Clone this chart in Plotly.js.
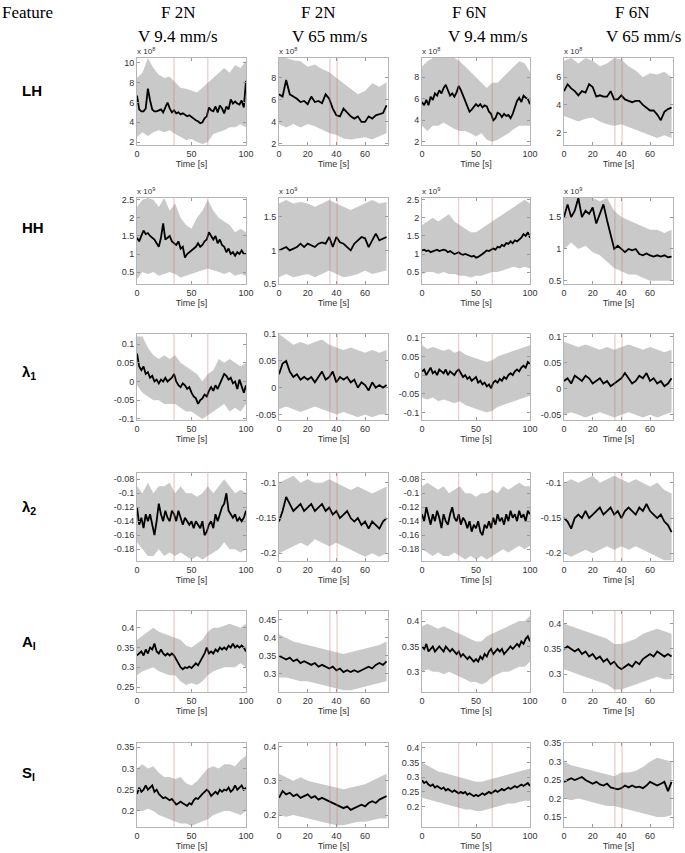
<!DOCTYPE html>
<html><head><meta charset="utf-8">
<script src="https://cdn.plot.ly/plotly-3.0.1.min.js"></script>
<style>html,body{margin:0;padding:0;background:#fff}#chart{width:685px;height:853px}</style>
</head><body><div id="chart"></div>
<script>
// ---------- time grids (s) ----------
const T100_MEAN = [0,2,4,6,8,10,12,14,16,18,20,22,24,26,28,30,32,34,36,38,40,42,44,46,48,50,52,54,56,58,60,62,64,66,68,70,72,74,76,78,80,82,84,86,88,90,92,94,96,98,100];
const T100_BAND = [0,5,10,15,20,25,30,35,40,45,50,55,60,65,70,75,80,85,90,95,100];
const T75_MEAN = [0,2.5,5,7.5,10,12.5,15,17.5,20,22.5,25,27.5,30,32.5,35,37.5,40,42.5,45,47.5,50,52.5,55,57.5,60,62.5,65,67.5,70,72.5,75];
const T75_BAND = [0,5,10,15,20,25,30,35,40,45,50,55,60,65,70,75];
const EVENTS_SLOW = [34, 65];
const EVENTS_FAST = [35.5, 40.5];

// ---------- headers ----------
const FEATURES = ['<b>LH</b>','<b>HH</b>','<b>λ<sub>1</sub></b>','<b>λ<sub>2</sub></b>','<b>A<sub>I</sub></b>','<b>S<sub>I</sub></b>'];
const FORCES = ['F 2N','F 2N','F 6N','F 6N'];
const SPEEDS = ['V 9.4 mm/s','V 65 mm/s','V 9.4 mm/s','V 65 mm/s'];
const EXPONENTS = ['8','9','','','',''];

// ---------- row 1: LH (x 10^8) ----------
const LH_C1_MEAN = [6.7,5.3,5.1,5.1,5.4,7.4,6.2,5.3,5.1,5.1,5.2,5.3,5.0,5.5,6.0,5.4,5.0,5.2,4.9,5.0,4.8,4.9,4.7,4.6,4.7,4.5,4.4,4.2,4.1,3.9,4.0,4.4,4.6,5.5,5.2,5.1,5.6,5.0,5.7,5.4,4.9,5.6,5.3,6.3,5.9,6.1,5.9,5.8,6.2,5.5,8.2];
const LH_C1_UP = [8.5,9.0,10.5,9.5,8.8,8.5,8.6,8.0,7.5,7.4,7.2,7.0,7.5,8.0,8.5,9.0,9.5,9.0,9.8,9.5,10.2];
const LH_C1_LO = [2.5,3.0,2.6,3.0,3.2,3.0,3.2,2.8,2.5,2.2,2.3,2.0,1.8,2.0,2.8,3.0,3.2,3.5,3.5,3.8,3.5];
const LH_C2_MEAN = [6.5,6.3,7.8,6.5,6.3,6.1,5.8,5.9,5.6,6.3,5.8,5.9,5.7,6.5,6.1,5.2,4.6,4.5,5.2,4.8,4.5,4.3,4.5,4.0,4.0,4.5,4.3,4.6,4.7,4.8,5.5];
const LH_C2_UP = [9.8,9.8,9.6,9.5,9.0,9.2,8.8,8.5,8.0,7.5,7.0,6.5,6.8,7.5,7.2,7.6];
const LH_C2_LO = [3.8,3.5,3.8,3.5,3.8,3.6,3.3,3.0,2.8,2.5,2.4,2.5,2.6,2.4,2.7,3.0];
const LH_C3_MEAN = [5.7,5.4,5.9,5.4,6.2,5.9,6.5,6.3,6.8,6.5,7.0,7.3,6.8,6.3,6.5,6.2,6.6,7.2,6.8,6.2,5.8,5.3,4.8,5.0,5.3,5.5,5.3,5.5,5.2,5.4,5.3,4.8,4.6,4.0,4.2,4.7,4.6,4.3,4.6,4.4,4.5,4.2,4.6,5.3,5.8,6.1,5.7,6.3,6.1,6.0,5.5];
const LH_C3_UP = [9.0,9.5,9.8,9.8,9.8,9.8,9.8,9.5,9.0,8.5,8.0,7.5,7.0,7.5,7.5,8.0,8.5,9.0,9.5,9.3,8.5];
const LH_C3_LO = [3.5,3.0,3.5,3.5,3.8,3.5,3.2,3.0,3.0,2.8,2.5,2.8,2.2,2.0,2.2,2.5,2.8,3.2,3.5,3.5,3.5];
const LH_C4_MEAN = [5.0,5.5,5.2,5.0,4.7,5.0,4.9,5.5,5.3,4.6,4.7,4.6,4.6,5.0,4.4,4.4,4.7,4.4,4.3,4.2,4.3,4.3,4.0,3.8,3.6,3.6,3.3,2.9,3.5,3.7,3.8];
const LH_C4_UP = [7.2,7.4,7.0,7.4,7.2,6.8,7.0,7.4,7.3,6.8,6.5,6.0,6.3,6.2,6.4,6.0];
const LH_C4_LO = [3.2,3.0,2.8,3.0,3.1,2.8,2.6,2.5,2.6,2.4,2.2,2.0,1.8,1.6,1.8,1.6];

// ---------- row 2: HH (x 10^9) ----------
const HH_C1_MEAN = [1.45,1.35,1.5,1.65,1.55,1.58,1.5,1.45,1.4,1.3,1.2,1.45,1.85,1.4,1.45,1.5,1.35,1.3,1.25,1.35,1.15,1.2,0.9,1.0,1.05,1.1,1.15,1.2,1.3,1.2,1.25,1.35,1.4,1.6,1.5,1.4,1.5,1.3,1.4,1.25,1.2,1.05,1.15,1.0,1.05,0.95,1.05,1.0,1.1,1.0,1.0];
const HH_C1_UP = [2.3,2.5,2.55,2.5,2.3,2.55,2.2,2.4,2.0,1.8,1.7,2.0,2.2,2.5,2.2,2.0,1.9,1.8,1.6,1.7,1.6];
const HH_C1_LO = [0.3,0.5,0.45,0.5,0.4,0.45,0.5,0.45,0.35,0.4,0.45,0.5,0.55,0.6,0.55,0.5,0.45,0.5,0.4,0.45,0.4];
const HH_C2_MEAN = [1.0,1.02,1.05,1.0,1.03,1.05,1.1,1.05,1.1,1.08,1.05,1.1,1.12,1.1,1.2,1.05,1.2,1.12,1.1,1.05,1.0,1.1,1.15,1.2,1.18,1.05,1.15,1.25,1.15,1.18,1.2];
const HH_C2_UP = [1.7,1.75,1.7,1.72,1.7,1.65,1.7,1.75,1.7,1.65,1.6,1.65,1.7,1.75,1.7,1.72];
const HH_C2_LO = [0.6,0.65,0.6,0.62,0.65,0.6,0.65,0.7,0.65,0.6,0.62,0.65,0.7,0.65,0.68,0.7];
const HH_C3_MEAN = [1.1,1.12,1.08,1.1,1.05,1.08,1.1,1.12,1.08,1.1,1.12,1.1,1.05,1.08,1.05,1.0,1.02,1.05,1.0,0.98,1.0,0.97,0.95,0.93,0.95,0.9,0.92,0.95,1.0,1.05,1.1,1.08,1.12,1.15,1.12,1.2,1.18,1.25,1.22,1.3,1.28,1.35,1.3,1.38,1.35,1.4,1.45,1.55,1.5,1.6,1.45];
const HH_C3_UP = [1.8,1.9,2.0,1.9,2.0,2.1,1.9,1.8,1.7,1.6,1.6,1.7,1.8,1.9,2.0,2.1,2.2,2.3,2.4,2.5,2.4];
const HH_C3_LO = [0.45,0.5,0.5,0.45,0.5,0.45,0.45,0.4,0.4,0.35,0.4,0.4,0.45,0.5,0.5,0.55,0.6,0.65,0.6,0.65,0.6];
const HH_C4_MEAN = [1.5,1.7,1.5,1.6,1.8,1.5,1.6,1.55,1.65,1.4,1.55,1.7,1.45,1.2,1.0,1.05,1.0,0.95,1.0,0.98,1.0,0.92,0.9,0.93,0.9,0.88,0.9,0.88,0.9,0.87,0.88];
const HH_C4_UP = [1.8,1.8,1.8,1.8,1.8,1.75,1.8,1.6,1.5,1.45,1.4,1.35,1.3,1.3,1.25,1.3];
const HH_C4_LO = [1.0,1.1,1.0,1.05,0.95,0.9,0.8,0.7,0.65,0.6,0.6,0.55,0.5,0.5,0.5,0.5];

// ---------- row 3: lambda 1 ----------
const L1_C1_MEAN = [0.075,0.04,0.03,0.04,0.02,0.025,0.01,0.015,0.0,0.005,-0.005,0.005,0.0,0.01,0.0,0.005,0.01,0.02,0.0,-0.01,-0.015,-0.005,-0.01,-0.02,-0.015,-0.03,-0.04,-0.045,-0.06,-0.05,-0.045,-0.035,-0.04,-0.025,-0.015,-0.025,-0.01,-0.02,-0.005,0.005,0.02,0.015,0.005,0.01,-0.005,0.0,-0.02,0.005,-0.01,-0.03,-0.01];
const L1_C1_UP = [0.12,0.12,0.09,0.07,0.06,0.07,0.06,0.07,0.05,0.04,0.03,0.02,0.0,0.02,0.03,0.06,0.05,0.06,0.05,0.04,0.05];
const L1_C1_LO = [-0.01,-0.03,-0.04,-0.05,-0.05,-0.06,-0.06,-0.06,-0.07,-0.08,-0.08,-0.09,-0.1,-0.09,-0.08,-0.07,-0.06,-0.08,-0.07,-0.08,-0.06];
const L1_C2_MEAN = [0.025,0.045,0.05,0.03,0.02,0.025,0.015,0.02,0.015,0.02,0.01,0.02,0.03,0.015,0.02,0.03,0.01,0.02,0.015,0.02,0.01,0.015,0.0,0.01,0.005,-0.005,0.01,0.0,0.005,0.0,0.005];
const L1_C2_UP = [0.1,0.09,0.08,0.085,0.08,0.085,0.09,0.08,0.075,0.07,0.075,0.07,0.065,0.07,0.065,0.07];
const L1_C2_LO = [-0.04,-0.035,-0.04,-0.045,-0.04,-0.035,-0.04,-0.045,-0.05,-0.045,-0.05,-0.055,-0.05,-0.055,-0.05,-0.05];
const L1_C3_MEAN = [0.01,0.015,0.0,0.01,0.02,0.005,0.01,0.0,0.015,0.01,0.005,0.015,0.0,0.01,0.005,0.0,0.01,0.015,0.005,-0.005,0.0,-0.01,-0.005,-0.015,-0.01,-0.005,-0.02,-0.015,-0.025,-0.02,-0.03,-0.025,-0.035,-0.02,-0.015,-0.02,-0.01,-0.015,-0.005,-0.01,0.0,0.005,0.0,0.01,0.015,0.01,0.02,0.025,0.02,0.035,0.03];
const L1_C3_UP = [0.08,0.07,0.075,0.07,0.065,0.07,0.06,0.065,0.055,0.05,0.045,0.04,0.035,0.04,0.05,0.055,0.06,0.065,0.07,0.075,0.08];
const L1_C3_LO = [-0.06,-0.065,-0.06,-0.07,-0.065,-0.07,-0.075,-0.07,-0.08,-0.085,-0.09,-0.095,-0.1,-0.095,-0.085,-0.08,-0.075,-0.07,-0.065,-0.06,-0.055];
const L1_C4_MEAN = [0.015,0.02,0.01,0.025,0.02,0.015,0.025,0.02,0.01,0.015,0.02,0.01,0.015,0.005,0.01,0.015,0.02,0.03,0.02,0.01,0.015,0.025,0.02,0.03,0.015,0.02,0.01,0.015,0.005,0.01,0.02];
const L1_C4_UP = [0.09,0.085,0.08,0.085,0.08,0.075,0.08,0.075,0.08,0.085,0.08,0.075,0.08,0.075,0.07,0.075];
const L1_C4_LO = [-0.05,-0.045,-0.05,-0.055,-0.05,-0.045,-0.05,-0.055,-0.05,-0.045,-0.05,-0.055,-0.05,-0.055,-0.05,-0.045];

// ---------- row 4: lambda 2 ----------
const L2_C1_MEAN = [-0.12,-0.145,-0.135,-0.15,-0.13,-0.14,-0.13,-0.145,-0.16,-0.14,-0.115,-0.13,-0.14,-0.125,-0.135,-0.14,-0.125,-0.13,-0.14,-0.125,-0.135,-0.145,-0.135,-0.14,-0.145,-0.14,-0.15,-0.14,-0.145,-0.15,-0.14,-0.16,-0.155,-0.145,-0.14,-0.15,-0.13,-0.14,-0.13,-0.12,-0.115,-0.1,-0.125,-0.13,-0.135,-0.13,-0.14,-0.135,-0.14,-0.135,-0.125];
const L2_C1_UP = [-0.09,-0.1,-0.085,-0.1,-0.09,-0.09,-0.085,-0.1,-0.09,-0.1,-0.1,-0.105,-0.1,-0.09,-0.1,-0.09,-0.08,-0.09,-0.1,-0.095,-0.1];
const L2_C1_LO = [-0.17,-0.18,-0.19,-0.19,-0.18,-0.19,-0.185,-0.19,-0.185,-0.19,-0.195,-0.19,-0.195,-0.19,-0.185,-0.18,-0.17,-0.18,-0.18,-0.185,-0.18];
const L2_C2_MEAN = [-0.155,-0.14,-0.12,-0.13,-0.14,-0.135,-0.13,-0.14,-0.135,-0.13,-0.14,-0.135,-0.13,-0.14,-0.135,-0.145,-0.14,-0.15,-0.145,-0.14,-0.15,-0.155,-0.15,-0.16,-0.155,-0.165,-0.155,-0.16,-0.165,-0.155,-0.15];
const L2_C2_UP = [-0.1,-0.095,-0.09,-0.1,-0.095,-0.1,-0.1,-0.095,-0.1,-0.105,-0.11,-0.105,-0.11,-0.115,-0.11,-0.105];
const L2_C2_LO = [-0.2,-0.195,-0.19,-0.185,-0.19,-0.18,-0.185,-0.19,-0.185,-0.19,-0.195,-0.2,-0.205,-0.2,-0.205,-0.2];
const L2_C3_MEAN = [-0.13,-0.14,-0.12,-0.135,-0.145,-0.13,-0.14,-0.125,-0.135,-0.15,-0.13,-0.14,-0.145,-0.13,-0.12,-0.135,-0.14,-0.13,-0.145,-0.135,-0.14,-0.15,-0.14,-0.155,-0.145,-0.15,-0.14,-0.155,-0.16,-0.145,-0.15,-0.14,-0.15,-0.135,-0.145,-0.13,-0.14,-0.135,-0.145,-0.13,-0.14,-0.125,-0.135,-0.13,-0.14,-0.125,-0.135,-0.13,-0.14,-0.125,-0.13];
const L2_C3_UP = [-0.09,-0.085,-0.09,-0.095,-0.09,-0.1,-0.095,-0.09,-0.1,-0.1,-0.105,-0.1,-0.1,-0.095,-0.1,-0.09,-0.095,-0.09,-0.085,-0.09,-0.09];
const L2_C3_LO = [-0.18,-0.185,-0.19,-0.185,-0.19,-0.19,-0.185,-0.19,-0.195,-0.19,-0.195,-0.19,-0.195,-0.19,-0.185,-0.18,-0.185,-0.18,-0.175,-0.18,-0.175];
const L2_C4_MEAN = [-0.15,-0.155,-0.165,-0.15,-0.145,-0.15,-0.14,-0.15,-0.145,-0.14,-0.135,-0.145,-0.14,-0.135,-0.145,-0.14,-0.15,-0.14,-0.135,-0.14,-0.145,-0.135,-0.14,-0.13,-0.14,-0.145,-0.15,-0.145,-0.155,-0.16,-0.17];
const L2_C4_UP = [-0.1,-0.095,-0.1,-0.095,-0.09,-0.1,-0.095,-0.09,-0.095,-0.1,-0.095,-0.1,-0.105,-0.1,-0.11,-0.115];
const L2_C4_LO = [-0.2,-0.205,-0.2,-0.195,-0.2,-0.195,-0.19,-0.195,-0.19,-0.195,-0.19,-0.195,-0.2,-0.205,-0.21,-0.21];

// ---------- row 5: A_I ----------
const AI_C1_MEAN = [0.33,0.335,0.34,0.33,0.345,0.335,0.35,0.345,0.36,0.34,0.335,0.345,0.335,0.33,0.335,0.33,0.335,0.33,0.32,0.31,0.3,0.295,0.3,0.298,0.302,0.298,0.305,0.31,0.305,0.315,0.325,0.335,0.35,0.335,0.34,0.335,0.345,0.34,0.35,0.345,0.35,0.345,0.355,0.35,0.36,0.35,0.355,0.35,0.355,0.35,0.34];
const AI_C1_UP = [0.37,0.38,0.39,0.4,0.39,0.385,0.38,0.375,0.37,0.355,0.35,0.36,0.37,0.39,0.4,0.4,0.405,0.41,0.405,0.4,0.41];
const AI_C1_LO = [0.28,0.29,0.295,0.3,0.29,0.285,0.28,0.28,0.265,0.255,0.26,0.255,0.265,0.28,0.29,0.295,0.3,0.3,0.3,0.31,0.3];
const AI_C2_MEAN = [0.35,0.345,0.34,0.345,0.335,0.34,0.33,0.335,0.33,0.325,0.33,0.32,0.325,0.32,0.315,0.32,0.31,0.315,0.305,0.31,0.305,0.31,0.305,0.31,0.315,0.32,0.315,0.325,0.33,0.325,0.335];
const AI_C2_UP = [0.41,0.4,0.39,0.385,0.38,0.375,0.37,0.365,0.36,0.355,0.36,0.365,0.37,0.375,0.38,0.39];
const AI_C2_LO = [0.29,0.29,0.285,0.28,0.28,0.275,0.27,0.265,0.26,0.255,0.255,0.26,0.265,0.27,0.275,0.28];
const AI_C3_MEAN = [0.35,0.345,0.355,0.34,0.345,0.35,0.34,0.345,0.35,0.345,0.34,0.35,0.345,0.34,0.345,0.34,0.335,0.34,0.33,0.335,0.33,0.325,0.33,0.325,0.32,0.325,0.32,0.33,0.325,0.335,0.33,0.34,0.345,0.335,0.34,0.345,0.34,0.345,0.335,0.34,0.345,0.35,0.345,0.35,0.355,0.35,0.36,0.355,0.365,0.37,0.36];
const AI_C3_UP = [0.39,0.395,0.39,0.385,0.39,0.385,0.38,0.375,0.37,0.365,0.36,0.36,0.37,0.375,0.38,0.385,0.39,0.395,0.4,0.4,0.41];
const AI_C3_LO = [0.3,0.305,0.3,0.3,0.295,0.3,0.295,0.29,0.285,0.28,0.28,0.275,0.28,0.29,0.295,0.3,0.3,0.305,0.31,0.31,0.32];
const AI_C4_MEAN = [0.35,0.355,0.35,0.345,0.35,0.34,0.345,0.335,0.34,0.33,0.335,0.325,0.33,0.32,0.325,0.315,0.31,0.315,0.32,0.315,0.325,0.32,0.33,0.335,0.34,0.335,0.345,0.34,0.335,0.34,0.335];
const AI_C4_UP = [0.4,0.395,0.39,0.385,0.38,0.375,0.37,0.36,0.36,0.365,0.37,0.38,0.385,0.39,0.385,0.38];
const AI_C4_LO = [0.31,0.305,0.3,0.295,0.29,0.285,0.28,0.27,0.27,0.275,0.28,0.285,0.29,0.295,0.29,0.29];

// ---------- row 6: S_I ----------
const SI_C1_MEAN = [0.24,0.255,0.245,0.25,0.26,0.25,0.255,0.26,0.245,0.25,0.24,0.235,0.23,0.232,0.228,0.225,0.228,0.22,0.215,0.218,0.222,0.218,0.214,0.212,0.218,0.215,0.225,0.23,0.228,0.235,0.24,0.245,0.25,0.245,0.235,0.24,0.245,0.24,0.25,0.245,0.25,0.248,0.255,0.245,0.25,0.26,0.25,0.255,0.26,0.25,0.255];
const SI_C1_UP = [0.3,0.31,0.3,0.305,0.29,0.28,0.28,0.275,0.28,0.265,0.26,0.27,0.285,0.3,0.305,0.3,0.31,0.31,0.305,0.32,0.33];
const SI_C1_LO = [0.2,0.2,0.205,0.2,0.19,0.185,0.18,0.175,0.17,0.17,0.165,0.17,0.175,0.18,0.19,0.195,0.2,0.2,0.195,0.19,0.2];
const SI_C2_MEAN = [0.25,0.27,0.26,0.265,0.255,0.26,0.25,0.255,0.26,0.25,0.255,0.245,0.25,0.245,0.24,0.235,0.23,0.225,0.22,0.225,0.215,0.22,0.225,0.23,0.225,0.235,0.24,0.235,0.245,0.25,0.255];
const SI_C2_UP = [0.32,0.31,0.3,0.31,0.3,0.295,0.29,0.285,0.28,0.275,0.28,0.285,0.29,0.3,0.31,0.32];
const SI_C2_LO = [0.2,0.195,0.2,0.195,0.19,0.185,0.18,0.175,0.17,0.17,0.175,0.18,0.18,0.185,0.19,0.19];
const SI_C3_MEAN = [0.29,0.28,0.285,0.275,0.27,0.275,0.265,0.27,0.265,0.26,0.265,0.255,0.26,0.255,0.25,0.255,0.25,0.245,0.25,0.245,0.25,0.24,0.245,0.24,0.235,0.24,0.235,0.24,0.245,0.24,0.245,0.25,0.245,0.25,0.255,0.25,0.255,0.26,0.255,0.26,0.265,0.26,0.265,0.27,0.265,0.27,0.275,0.27,0.275,0.28,0.27];
const SI_C3_UP = [0.35,0.34,0.33,0.32,0.315,0.31,0.305,0.3,0.295,0.29,0.285,0.285,0.29,0.295,0.3,0.305,0.31,0.315,0.32,0.325,0.33];
const SI_C3_LO = [0.23,0.225,0.22,0.215,0.21,0.205,0.2,0.195,0.19,0.19,0.185,0.185,0.19,0.195,0.2,0.205,0.21,0.21,0.215,0.22,0.22];
const SI_C4_MEAN = [0.245,0.25,0.255,0.25,0.255,0.258,0.25,0.245,0.24,0.245,0.238,0.235,0.24,0.23,0.228,0.225,0.228,0.235,0.23,0.235,0.23,0.232,0.228,0.235,0.245,0.24,0.235,0.24,0.245,0.22,0.245];
const SI_C4_UP = [0.3,0.29,0.285,0.28,0.275,0.27,0.265,0.26,0.27,0.27,0.275,0.285,0.3,0.31,0.305,0.3];
const SI_C4_LO = [0.2,0.195,0.2,0.195,0.19,0.185,0.18,0.18,0.175,0.17,0.165,0.16,0.155,0.15,0.15,0.155];

// ---------- assemble ----------
const SERIES = [
  [[LH_C1_MEAN,LH_C1_UP,LH_C1_LO],[LH_C2_MEAN,LH_C2_UP,LH_C2_LO],[LH_C3_MEAN,LH_C3_UP,LH_C3_LO],[LH_C4_MEAN,LH_C4_UP,LH_C4_LO]],
  [[HH_C1_MEAN,HH_C1_UP,HH_C1_LO],[HH_C2_MEAN,HH_C2_UP,HH_C2_LO],[HH_C3_MEAN,HH_C3_UP,HH_C3_LO],[HH_C4_MEAN,HH_C4_UP,HH_C4_LO]],
  [[L1_C1_MEAN,L1_C1_UP,L1_C1_LO],[L1_C2_MEAN,L1_C2_UP,L1_C2_LO],[L1_C3_MEAN,L1_C3_UP,L1_C3_LO],[L1_C4_MEAN,L1_C4_UP,L1_C4_LO]],
  [[L2_C1_MEAN,L2_C1_UP,L2_C1_LO],[L2_C2_MEAN,L2_C2_UP,L2_C2_LO],[L2_C3_MEAN,L2_C3_UP,L2_C3_LO],[L2_C4_MEAN,L2_C4_UP,L2_C4_LO]],
  [[AI_C1_MEAN,AI_C1_UP,AI_C1_LO],[AI_C2_MEAN,AI_C2_UP,AI_C2_LO],[AI_C3_MEAN,AI_C3_UP,AI_C3_LO],[AI_C4_MEAN,AI_C4_UP,AI_C4_LO]],
  [[SI_C1_MEAN,SI_C1_UP,SI_C1_LO],[SI_C2_MEAN,SI_C2_UP,SI_C2_LO],[SI_C3_MEAN,SI_C3_UP,SI_C3_LO],[SI_C4_MEAN,SI_C4_UP,SI_C4_LO]]
];
const COLS = [
  {tm:T100_MEAN, tb:T100_BAND, ev:EVENTS_SLOW, xr:[0,100], xt:[0,50,100]},
  {tm:T75_MEAN,  tb:T75_BAND,  ev:EVENTS_FAST, xr:[0,76],  xt:[0,20,40,60]},
  {tm:T100_MEAN, tb:T100_BAND, ev:EVENTS_SLOW, xr:[0,100], xt:[0,50,100]},
  {tm:T75_MEAN,  tb:T75_BAND,  ev:EVENTS_FAST, xr:[0,76],  xt:[0,20,40,60]}
];
// y-axis ranges and ticks per panel [row][col]
const YAX = [
  [{r:[1.7,10.5],t:[2,4,6,8,10]},{r:[1.9,9.8],t:[2,4,6,8]},{r:[1.7,9.8],t:[2,4,6,8]},{r:[1.1,7.4],t:[2,4,6]}],
  [{r:[0.17,2.55],t:[0.5,1,1.5,2,2.5]},{r:[0.5,1.78],t:[0.5,1,1.5]},{r:[0.17,2.55],t:[0.5,1,1.5,2,2.5]},{r:[0.45,1.8],t:[0.5,1,1.5]}],
  [{r:[-0.103,0.127],t:[-0.1,-0.05,0,0.05,0.1]},{r:[-0.06,0.1],t:[-0.05,0,0.05,0.1]},{r:[-0.12,0.11],t:[-0.1,-0.05,0,0.05,0.1]},{r:[-0.06,0.105],t:[-0.05,0,0.05,0.1]}],
  [{r:[-0.197,-0.071],t:[-0.18,-0.16,-0.14,-0.12,-0.1,-0.08]},{r:[-0.211,-0.086],t:[-0.2,-0.15,-0.1]},{r:[-0.197,-0.071],t:[-0.18,-0.16,-0.14,-0.12,-0.1,-0.08]},{r:[-0.211,-0.086],t:[-0.2,-0.15,-0.1]}],
  [{r:[0.2375,0.4425],t:[0.25,0.3,0.35,0.4]},{r:[0.25,0.474],t:[0.3,0.35,0.4,0.45]},{r:[0.26,0.42],t:[0.3,0.35,0.4]},{r:[0.265,0.425],t:[0.3,0.35,0.4]}],
  [{r:[0.162,0.36],t:[0.2,0.25,0.3,0.35]},{r:[0.165,0.41],t:[0.2,0.3,0.4]},{r:[0.13,0.417],t:[0.2,0.25,0.3,0.35,0.4]},{r:[0.123,0.35],t:[0.15,0.2,0.25,0.3,0.35]}]
];

const W = 685, H = 853;
const COLX = [[137,246],[279,388],[422,530],[564,673]];
const ROWY = [[58,145],[198,284],[334,420],[473,561],[611,692],[743,827]];
const HEADX = [[178,178],[318,329],[469,488],[632,643]];
const LABELY = [90,228,372,507,642,773];

const traces = [], shapes = [], annotations = [];
const layout = {
  width: W, height: H, margin: {l:0,r:0,t:0,b:0}, showlegend: false,
  paper_bgcolor: '#fff', plot_bgcolor: '#fff'
};
const tickFont = {family: 'Liberation Sans, Arial, sans-serif', size: 9, color: '#333'};

for (let r = 0; r < 6; r++) {
  for (let c = 0; c < 4; c++) {
    const k = r*4 + c + 1;
    const xa = 'x' + (k === 1 ? '' : k), ya = 'y' + (k === 1 ? '' : k);
    const [mean, up, lo] = SERIES[r][c];
    const col = COLS[c];
    traces.push({
      type: 'scatter', mode: 'lines', xaxis: xa, yaxis: ya,
      x: col.tb.concat(col.tb.slice().reverse()),
      y: up.concat(lo.slice().reverse()),
      fill: 'toself', fillcolor: '#c9c9c9', line: {width: 0, color: '#c9c9c9'}, hoverinfo: 'skip'
    });
    traces.push({
      type: 'scatter', mode: 'lines', xaxis: xa, yaxis: ya,
      x: col.tm, y: mean, line: {color: '#000', width: 1.8}
    });
    col.ev.forEach(e => shapes.push({
      type: 'line', xref: xa, yref: ya + ' domain', x0: e, x1: e, y0: 0, y1: 1,
      line: {color: 'rgba(200,110,110,0.45)', width: 1}, layer: 'above'
    }));
    const yax = YAX[r][c];
    layout['xaxis' + (k === 1 ? '' : k)] = {
      domain: [COLX[c][0]/W, COLX[c][1]/W], anchor: ya, range: col.xr,
      tickmode: 'array', tickvals: col.xt, ticktext: col.xt.map(String),
      ticks: 'inside', ticklen: 3, tickcolor: '#999', showline: true, linecolor: '#b5b5b5', linewidth: 1,
      mirror: 'ticks', showgrid: false, zeroline: false, tickfont: tickFont,
      title: {text: 'Time [s]', font: tickFont, standoff: 2}
    };
    layout['yaxis' + (k === 1 ? '' : k)] = {
      domain: [1 - ROWY[r][1]/H, 1 - ROWY[r][0]/H], anchor: xa, range: yax.r,
      tickmode: 'array', tickvals: yax.t, ticktext: yax.t.map(String),
      ticks: 'inside', ticklen: 3, tickcolor: '#999', showline: true, linecolor: '#b5b5b5', linewidth: 1,
      mirror: 'ticks', showgrid: false, zeroline: false, tickfont: tickFont
    };
    if (EXPONENTS[r]) {
      annotations.push({
        xref: 'paper', yref: 'paper', x: (COLX[c][0] - 2)/W, y: 1 - (ROWY[r][0] - 7)/H,
        xanchor: 'left', yanchor: 'middle', showarrow: false,
        text: 'x 10<sup>' + EXPONENTS[r] + '</sup>', font: {family: 'Liberation Sans, Arial', size: 8, color: '#333'}
      });
    }
  }
  annotations.push({
    xref: 'paper', yref: 'paper', x: 20/W, y: 1 - LABELY[r]/H, xanchor: 'left', yanchor: 'middle',
    showarrow: false, text: FEATURES[r], font: {family: 'Liberation Sans, Arial', size: 15, color: '#000'}
  });
}
annotations.push({
  xref: 'paper', yref: 'paper', x: 0, y: 1 - 12/H, xanchor: 'left', yanchor: 'middle', showarrow: false,
  text: 'Feature', font: {family: 'Liberation Serif, Times New Roman, serif', size: 17, color: '#000'}
});
for (let c = 0; c < 4; c++) {
  annotations.push({
    xref: 'paper', yref: 'paper', x: HEADX[c][0]/W, y: 1 - 12/H, xanchor: 'center', yanchor: 'middle', showarrow: false,
    text: FORCES[c], font: {family: 'Liberation Serif, Times New Roman, serif', size: 17, color: '#000'}
  });
  annotations.push({
    xref: 'paper', yref: 'paper', x: HEADX[c][1]/W, y: 1 - 36/H, xanchor: 'center', yanchor: 'middle', showarrow: false,
    text: SPEEDS[c], font: {family: 'Liberation Serif, Times New Roman, serif', size: 17, color: '#000'}
  });
}
layout.shapes = shapes;
layout.annotations = annotations;
Plotly.newPlot('chart', traces, layout, {displayModeBar: false, staticPlot: true});
</script>
</body></html>
